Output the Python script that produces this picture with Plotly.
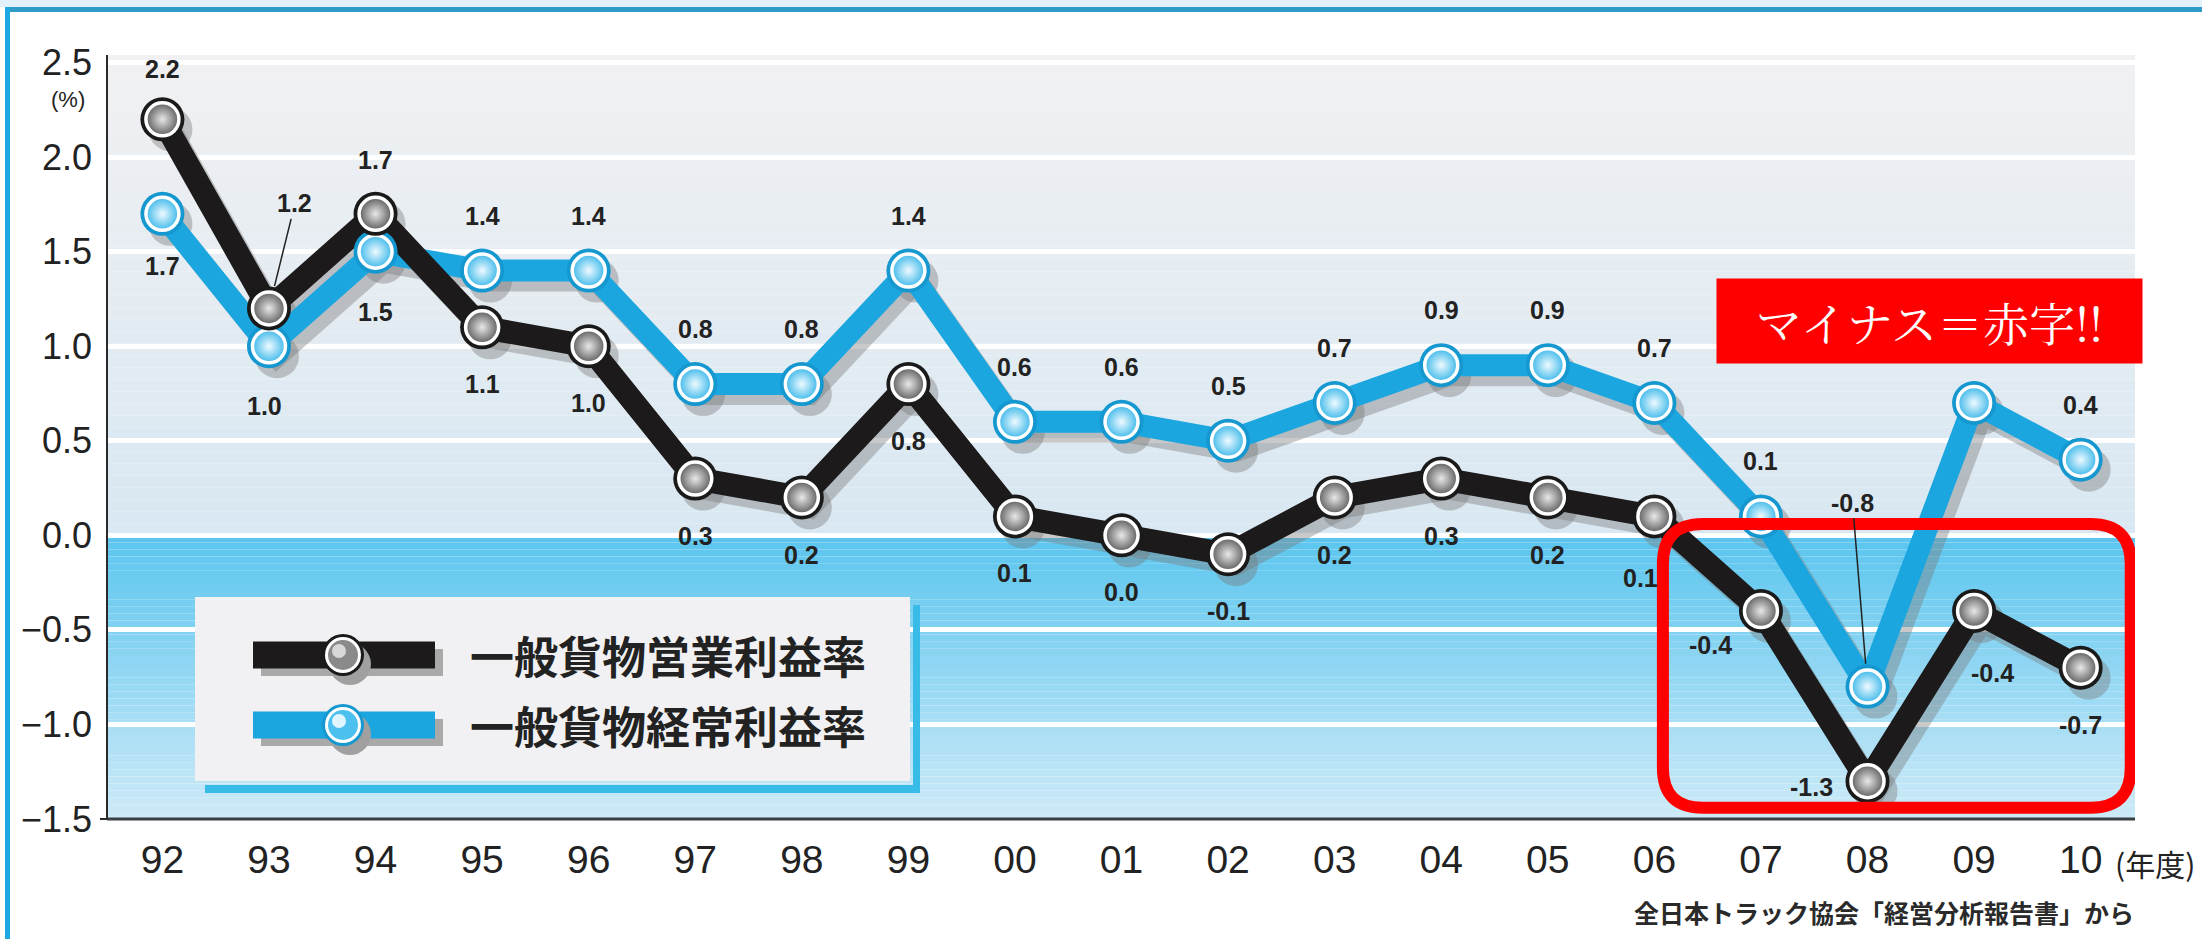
import numpy as np
import plotly.graph_objects as go

# ---------------- data ----------------
years = ["92", "93", "94", "95", "96", "97", "98", "99", "00", "01",
         "02", "03", "04", "05", "06", "07", "08", "09", "10"]
operating_margin = [2.2, 1.2, 1.7, 1.1, 1.0, 0.3, 0.2, 0.8, 0.1, 0.0,
                    -0.1, 0.2, 0.3, 0.2, 0.1, -0.4, -1.3, -0.4, -0.7]
ordinary_margin = [1.7, 1.0, 1.5, 1.4, 1.4, 0.8, 0.8, 1.4, 0.6, 0.6,
                   0.5, 0.7, 0.9, 0.9, 0.7, 0.1, -0.8, 0.7, 0.4]
y_tick_values = [2.5, 2.0, 1.5, 1.0, 0.5, 0.0, -0.5, -1.0, -1.5]
series_names = ["一般貨物営業利益率", "一般貨物経常利益率"]
unit_label = "(%)"
x_unit_label = "(年度)"
source_text = "全日本トラック協会「経営分析報告書」から"
callout_text = "マイナス＝赤字!!"
ordinary_label_visible = [True] * 17 + [False, True]

# ---------------- geometry / styles ----------------
W, H = 2202, 939
L, R, T, B = 107, 67, 55, 120
PW, PH = W - L - R, H - T - B
XR = [-0.52, 18.51]
YR = [-1.5, 2.54]
ppx = PW / (XR[1] - XR[0])
ppy = PH / (YR[1] - YR[0])
SH_DX, SH_DY = 8, 10
XR_SH = [XR[0] - SH_DX / ppx, XR[1] - SH_DX / ppx]
YR_SH = [YR[0] + SH_DY / ppy, YR[1] + SH_DY / ppy]

x_pos = list(range(len(years)))


def px(xp):
    return (xp - L) / PW


def py(yp):
    return (H - B - yp) / PH


NUM_FONT = "Liberation Sans Narrow, Arial Narrow, Liberation Sans, Arial"
LBL_FONT = "Liberation Sans, Arial"
JP_FONT = "Noto Sans CJK JP, Noto Sans CJK SC, sans-serif"

BLACK = "#1c1a1a"
BLUE = "#1ba6e0"

fig = go.Figure()

# dummy trace on base axes
fig.add_trace(go.Scatter(x=[], y=[], xaxis="x", yaxis="y", showlegend=False, hoverinfo="skip"))

# ---- shadows (overlay axes shifted by a few pixels) ----
shadow_col = "rgba(120,120,120,0.40)"
for vals in (ordinary_margin, operating_margin):
    fig.add_trace(go.Scatter(x=x_pos, y=vals, xaxis="x2", yaxis="y2", mode="lines",
                             line=dict(color=shadow_col, width=22), showlegend=False,
                             hoverinfo="skip", cliponaxis=False))
for vals in (ordinary_margin, operating_margin):
    fig.add_trace(go.Scatter(x=x_pos, y=vals, xaxis="x2", yaxis="y2", mode="markers",
                             marker=dict(color=shadow_col, size=44), showlegend=False,
                             hoverinfo="skip", cliponaxis=False))

# ---- main lines ----
fig.add_trace(go.Scatter(x=x_pos, y=ordinary_margin, xaxis="x3", yaxis="y3", mode="lines",
                         line=dict(color=BLUE, width=22), name=series_names[1],
                         showlegend=False, cliponaxis=False))
fig.add_trace(go.Scatter(x=x_pos, y=operating_margin, xaxis="x3", yaxis="y3", mode="lines",
                         line=dict(color=BLACK, width=23), name=series_names[0],
                         showlegend=False, cliponaxis=False))

# ---- markers ----
for vals, ring, inner, center in ((ordinary_margin, "#1597cf", "#3fb9ea", "#eefaff"),
                                  (operating_margin, "#1a1a1a", "#5e5e5e", "#e8e8e8")):
    fig.add_trace(go.Scatter(x=x_pos, y=vals, xaxis="x3", yaxis="y3", mode="markers",
                             marker=dict(color=ring, size=44), showlegend=False,
                             hoverinfo="skip", cliponaxis=False))
    fig.add_trace(go.Scatter(x=x_pos, y=vals, xaxis="x3", yaxis="y3", mode="markers",
                             marker=dict(color=inner, size=33,
                                         gradient=dict(type="radial", color=center),
                                         line=dict(color="white", width=3.5)),
                             showlegend=False, cliponaxis=False))

# ---------------- background gradient stripes ----------------
shapes = []


def hex2rgb(h):
    h = h.lstrip("#")
    return np.array([int(h[i:i + 2], 16) for i in (0, 2, 4)], dtype=float)


def stripes(y_from, y_to, c_from, c_to, n=40):
    a, b = hex2rgb(c_from), hex2rgb(c_to)
    edges = np.linspace(y_from, y_to, n + 1)
    for i in range(n):
        t = i / (n - 1)
        c = a + (b - a) * t
        shapes.append(dict(type="rect", xref="paper", yref="y", x0=0, x1=1,
                           y0=edges[i], y1=edges[i + 1], layer="below",
                           fillcolor="rgb(%d,%d,%d)" % tuple(c), line=dict(width=0)))


stripes(0, YR[1], "#d9e8f2", "#f1f1f3")
stripes(0, YR[0], "#5cc6ef", "#cdeaf8")

# axis lines
shapes.append(dict(type="line", xref="paper", yref="paper", x0=0, x1=1, y0=0, y1=0,
                   line=dict(color="#3a3f44", width=3), layer="above"))
shapes.append(dict(type="line", xref="paper", yref="paper", x0=0, x1=0, y0=0, y1=1,
                   line=dict(color="#2a2a2a", width=2), layer="above"))
shapes.append(dict(type="line", xref="paper", yref="paper", x0=px(100), x1=0, y0=0, y1=0,
                   line=dict(color="#2a2a2a", width=2), layer="above"))

# outer frame
shapes.append(dict(type="rect", xref="paper", yref="paper", x0=px(-20), x1=px(W + 20),
                   y0=py(7), y1=py(-20), fillcolor="#e2f1fb", line=dict(width=0), layer="below"))
shapes.append(dict(type="rect", xref="paper", yref="paper", x0=px(5), x1=px(W + 20),
                   y0=py(12), y1=py(7), fillcolor="#2e9cc6", line=dict(width=0), layer="below"))
shapes.append(dict(type="rect", xref="paper", yref="paper", x0=px(5), x1=px(10),
                   y0=py(H + 20), y1=py(7), fillcolor="#1ea9e2", line=dict(width=0), layer="below"))

# ---------------- custom legend ----------------
shapes.append(dict(type="rect", xref="paper", yref="paper", x0=px(913), x1=px(920),
                   y0=py(793), y1=py(605), fillcolor="#38bbe6", line=dict(width=0), layer="above"))
shapes.append(dict(type="rect", xref="paper", yref="paper", x0=px(205), x1=px(920),
                   y0=py(793), y1=py(785), fillcolor="#38bbe6", line=dict(width=0), layer="above"))
shapes.append(dict(type="rect", xref="paper", yref="paper", x0=px(195), x1=px(910),
                   y0=py(781), y1=py(597), fillcolor="#f1f1f3", line=dict(width=0), layer="above"))

legend_items = [(655, BLACK, "#1a1a1a", "#8a8a8a", "#d8d8d8"),
                (725, BLUE, "#1597cf", "#4cc0ee", "#dff5ff")]
for cy, barc, ringc, fillc, hic in legend_items:
    shapes.append(dict(type="rect", xref="paper", yref="paper", x0=px(261), x1=px(443),
                       y0=py(cy + 21), y1=py(cy - 6), fillcolor="#a9a9a9",
                       line=dict(width=0), layer="above"))
    shapes.append(dict(type="rect", xref="paper", yref="paper", x0=px(253), x1=px(435),
                       y0=py(cy + 13.5), y1=py(cy - 13.5), fillcolor=barc,
                       line=dict(width=0), layer="above"))
    for dx, dy, d, col in ((7, 9, 42, "#a0a0a0"), (0, 0, 42, ringc), (0, 0, 36, "white"),
                           (0, 0, 30, fillc), (-4, -4, 14, hic)):
        shapes.append(dict(type="circle", xref="paper", yref="paper",
                           xsizemode="pixel", ysizemode="pixel",
                           xanchor=px(343 + dx), yanchor=py(cy + dy),
                           x0=-d / 2, x1=d / 2, y0=-d / 2, y1=d / 2,
                           fillcolor=col, line=dict(width=0), layer="above"))

# ---------------- red highlight box (rounded) ----------------
bx0, bx1, by0, by1 = 14.08, 18.47, -1.44, 0.06
rx, ry = 40 / ppx, 40 / ppy
path = (f"M {bx0 + rx},{by1} L {bx1 - rx},{by1} Q {bx1},{by1} {bx1},{by1 - ry} "
        f"L {bx1},{by0 + ry} Q {bx1},{by0} {bx1 - rx},{by0} "
        f"L {bx0 + rx},{by0} Q {bx0},{by0} {bx0},{by0 + ry} "
        f"L {bx0},{by1 - ry} Q {bx0},{by1} {bx0 + rx},{by1} Z")
shapes.append(dict(type="path", xref="x", yref="y", path=path,
                   line=dict(color="#ff0000", width=12), layer="above"))

# ---------------- annotations ----------------
annotations = []
lbl_font = dict(family=LBL_FONT, size=25, color="#222222", weight="bold")

op_off = {i: (0, -57) for i in range(len(years))}
op_off.update({0: (0, 50), 2: (0, 54), 14: (-14, -62), 15: (-50, -34),
               16: (-56, -6), 17: (18, -62)})
ord_off = {i: (0, 55) for i in range(len(years))}
ord_off.update({0: (0, -52), 1: (-4, -60), 2: (0, -60)})
op_leader = {1: (26, -105)}
ord_leader = {16: (-15, -184)}

for vals, offs, leaders, visible in ((operating_margin, op_off, op_leader, [True] * len(years)),
                                     (ordinary_margin, ord_off, ord_leader, ordinary_label_visible)):
    for i, v in enumerate(vals):
        if not visible[i]:
            continue
        txt = f"{v:.1f}"
        if i in leaders:
            ax, ay = leaders[i]
            annotations.append(dict(x=x_pos[i], y=v, xref="x", yref="y", text=txt,
                                    showarrow=True, arrowhead=0, arrowwidth=1.5,
                                    arrowcolor="#222222", ax=ax, ay=ay, standoff=23,
                                    font=lbl_font))
        else:
            dx, dy = offs[i]
            annotations.append(dict(x=x_pos[i], y=v, xref="x", yref="y", text=txt,
                                    showarrow=False, xshift=dx, yshift=dy, font=lbl_font))

# legend text
for cy, name in zip((655, 725), series_names):
    annotations.append(dict(x=px(468), y=py(cy), xref="paper", yref="paper", text=name,
                            showarrow=False, xanchor="left", yanchor="middle",
                            font=dict(family=JP_FONT, size=44, color="#222222", weight="bold")))

# unit labels and source
annotations.append(dict(x=px(68), y=py(99), xref="paper", yref="paper", text=unit_label,
                        showarrow=False, xanchor="center", yanchor="middle",
                        font=dict(family=NUM_FONT, size=22, color="#222222")))
annotations.append(dict(x=px(2155), y=py(863), xref="paper", yref="paper", text=x_unit_label,
                        showarrow=False, xanchor="center", yanchor="middle",
                        font=dict(family=JP_FONT, size=30, color="#222222")))
annotations.append(dict(x=px(2136), y=py(912), xref="paper", yref="paper", text=source_text,
                        showarrow=False, xanchor="right", yanchor="middle",
                        font=dict(family=JP_FONT, size=25, color="#2a2a2a", weight="bold")))

# red callout
annotations.append(dict(x=px(1929.5), y=py(321), xref="paper", yref="paper", text=callout_text,
                        showarrow=False, xanchor="center", yanchor="middle",
                        bgcolor="#ff0000", width=425, height=84, borderpad=0,
                        font=dict(family="Noto Serif CJK JP, " + JP_FONT, size=46, color="white")))

# ---------------- layout ----------------
fig.update_layout(
    width=W, height=H,
    margin=dict(l=L, r=R, t=T, b=B, pad=0),
    paper_bgcolor="white",
    plot_bgcolor="rgba(0,0,0,0)",
    showlegend=False,
    xaxis=dict(range=XR, tickvals=x_pos, ticktext=years, showgrid=False, zeroline=False,
               showline=False, ticks="", ticklabelstandoff=14,
               tickfont=dict(family=NUM_FONT, size=39, color="#222222")),
    yaxis=dict(range=YR, tickvals=y_tick_values, tickformat=".1f", showgrid=True,
               gridcolor="white", gridwidth=5, zeroline=False, showline=False, ticks="",
               ticklabelstandoff=14,
               tickfont=dict(family=NUM_FONT, size=36, color="#222222")),
    xaxis2=dict(range=XR_SH, overlaying="x", anchor="y2", visible=False),
    yaxis2=dict(range=YR_SH, overlaying="y", anchor="x2", visible=False),
    xaxis3=dict(range=XR, overlaying="x", anchor="y3", visible=False),
    yaxis3=dict(range=YR, overlaying="y", anchor="x3", visible=False),
    shapes=shapes,
    annotations=annotations,
)

fig.write_html("out.html")
